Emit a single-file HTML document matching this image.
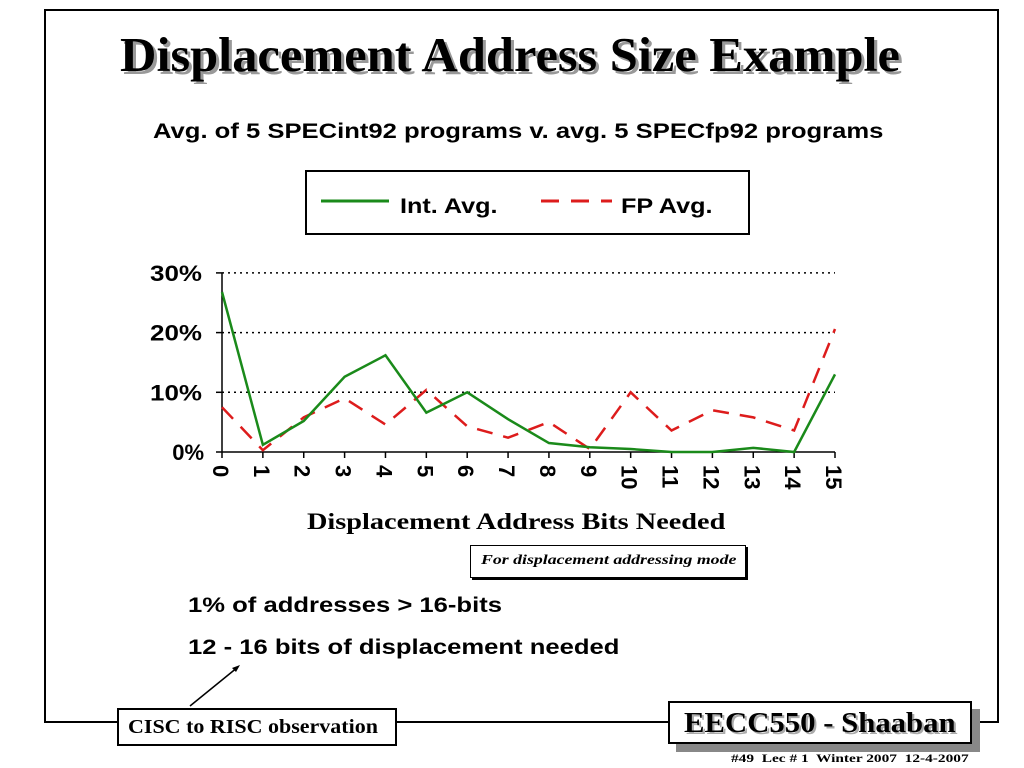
<!DOCTYPE html>
<html><head><meta charset="utf-8"><style>
body{margin:0;width:1024px;height:768px;background:#fff;position:relative;overflow:hidden;font-family:"Liberation Sans",sans-serif}
.abs{position:absolute}
.sx{display:inline-block;transform-origin:left top;white-space:nowrap}
</style></head><body>
<div class="abs" style="left:44px;top:9px;width:951px;height:710px;border:2px solid #000;"></div>
<div class="abs" style="left:120px;top:26px;font:bold 49px 'Liberation Serif',serif;text-shadow:3px 3px 0 #999"><span class="sx" style="transform:scaleX(1.03)">Displacement Address Size Example</span></div>
<div class="abs" style="left:153px;top:120px;font:bold 21px 'Liberation Sans',sans-serif"><span class="sx" style="transform:scaleX(1.22)">Avg. of 5 SPECint92 programs v. avg. 5 SPECfp92 programs</span></div>
<div class="abs" style="left:305px;top:170px;width:445px;height:65px;border:2px solid #000;box-sizing:border-box;background:#fff">
 <svg width="445" height="65" class="abs" style="left:0;top:0"><line x1="14" y1="29" x2="82" y2="29" stroke="#1a8a1a" stroke-width="3"/><line x1="234" y1="29" x2="305" y2="29" stroke="#dd1c1c" stroke-width="3" stroke-dasharray="18,12"/></svg>
 <span class="abs" style="left:93px;top:23px;font:bold 21px 'Liberation Sans',sans-serif"><span class="sx" style="transform:scaleX(1.2)">Int. Avg.</span></span>
 <span class="abs" style="left:314px;top:23px;font:bold 21px 'Liberation Sans',sans-serif"><span class="sx" style="transform:scaleX(1.2)">FP Avg.</span></span>
</div>
<svg class="abs" style="left:0;top:0" width="1024" height="768" id="chart"></svg>
<div class="abs" style="left:307px;top:509px;font:bold 23px 'Liberation Serif',serif"><span class="sx" style="transform:scaleX(1.23)">Displacement Address Bits Needed</span></div>
<div class="abs" style="left:470px;top:545px;width:276px;height:33px;border:1px solid #000;box-shadow:2px 2px 0 #000;box-sizing:border-box;font:italic bold 14px 'Liberation Serif',serif;padding:7px 0 0 10px"><span class="sx" style="transform:scaleX(1.27)">For displacement addressing mode</span></div>
<div class="abs" style="left:188px;top:594px;font:bold 21px 'Liberation Sans',sans-serif"><span class="sx" style="transform:scaleX(1.22)">1% of addresses &gt; 16-bits</span></div>
<div class="abs" style="left:188px;top:636px;font:bold 21px 'Liberation Sans',sans-serif"><span class="sx" style="transform:scaleX(1.22)">12 - 16 bits of displacement needed</span></div>
<svg class="abs" style="left:0;top:0" width="1024" height="768"><line x1="190" y1="706" x2="238" y2="667" stroke="#000" stroke-width="1.5"/><polygon points="240,665 232,668 236,672" fill="#000"/></svg>
<div class="abs" style="left:117px;top:708px;width:280px;height:38px;border:2px solid #000;background:#fff;box-sizing:border-box;font:bold 20px 'Liberation Serif',serif;line-height:34px;padding-left:9px"><span class="sx" style="transform:scaleX(1.1)">CISC to RISC observation</span></div>
<div class="abs" style="left:676px;top:709px;width:304px;height:43px;background:#888"></div>
<div class="abs" style="left:668px;top:701px;width:304px;height:43px;border:2px solid #000;background:#fff;box-sizing:border-box;font:bold 29px 'Liberation Serif',serif;line-height:40px;padding-left:14px;text-shadow:2px 2px 0 #aaa"><span class="sx" style="transform:scaleX(1.06)">EECC550 - Shaaban</span></div>
<div class="abs" style="left:731px;top:751px;font:bold 12px 'Liberation Serif',serif"><span class="sx" style="transform:scaleX(1.28)">#49&nbsp; Lec # 1&nbsp; Winter 2007&nbsp; 12-4-2007</span></div>
<script>
const categories=["0","1","2","3","4","5","6","7","8","9","10","11","12","13","14","15"];
const intAvg=[26.8,1.2,5.2,12.6,16.2,6.6,10,5.5,1.5,0.8,0.5,0,0,0.7,0,13];
const fpAvg=[7.5,0.3,5.8,9,4.6,10.4,4.3,2.4,5,0.5,10,3.6,7,5.8,3.6,20.6];
const yTicks=[0,10,20,30];
const yTickLabels=["0%","10%","20%","30%"];
const NS="http://www.w3.org/2000/svg";
const svg=document.getElementById('chart');
const X=i=>222+i*(835-222)/15, Y=v=>452-v*5.97;
function mk(t,a,p){const e=document.createElementNS(NS,t);for(const k in a)e.setAttribute(k,a[k]);(p||svg).appendChild(e);return e;}
yTicks.forEach((v,i)=>{
 if(v>0){const g=mk('line',{x1:222,x2:835,y1:Y(v),y2:Y(v),stroke:'#000','stroke-width':1.5,'stroke-dasharray':'2,4'});
 
 }
 mk('line',{x1:216,x2:222,y1:Y(v),y2:Y(v),stroke:'#000','stroke-width':1.5});
 const t=mk('text',{x:202,y:Y(v)+8,'text-anchor':'end','font-family':'Liberation Sans','font-weight':'bold','font-size':22,textLength:52,lengthAdjust:'spacingAndGlyphs'});
 t.textContent=yTickLabels[i];
 if(v===0){t.removeAttribute('textLength');t.setAttribute('x',204);}
 
 
});
mk('line',{x1:222,x2:222,y1:Y(30),y2:Y(0),stroke:'#000','stroke-width':1.5});
mk('line',{x1:222,x2:835,y1:Y(0),y2:Y(0),stroke:'#000','stroke-width':1.5});
categories.forEach((c,i)=>{
 mk('line',{x1:X(i),x2:X(i),y1:Y(0),y2:Y(0)+6,stroke:'#000','stroke-width':1.5});
 const t=mk('text',{x:0,y:0,transform:`translate(${X(i)-9},${Y(0)+13}) rotate(90)`,'font-family':'Liberation Sans','font-weight':'bold','font-size':22});
 t.textContent=c;
 
 
});
const fp=mk('polyline',{points:fpAvg.map((v,i)=>X(i)+','+Y(v)).join(' '),fill:'none',stroke:'#dd1c1c','stroke-width':2.5,'stroke-dasharray':'16,11'});


const il=mk('polyline',{points:intAvg.map((v,i)=>X(i)+','+Y(v)).join(' '),fill:'none',stroke:'#1a8a1a','stroke-width':2.5});


</script>
</body></html>
